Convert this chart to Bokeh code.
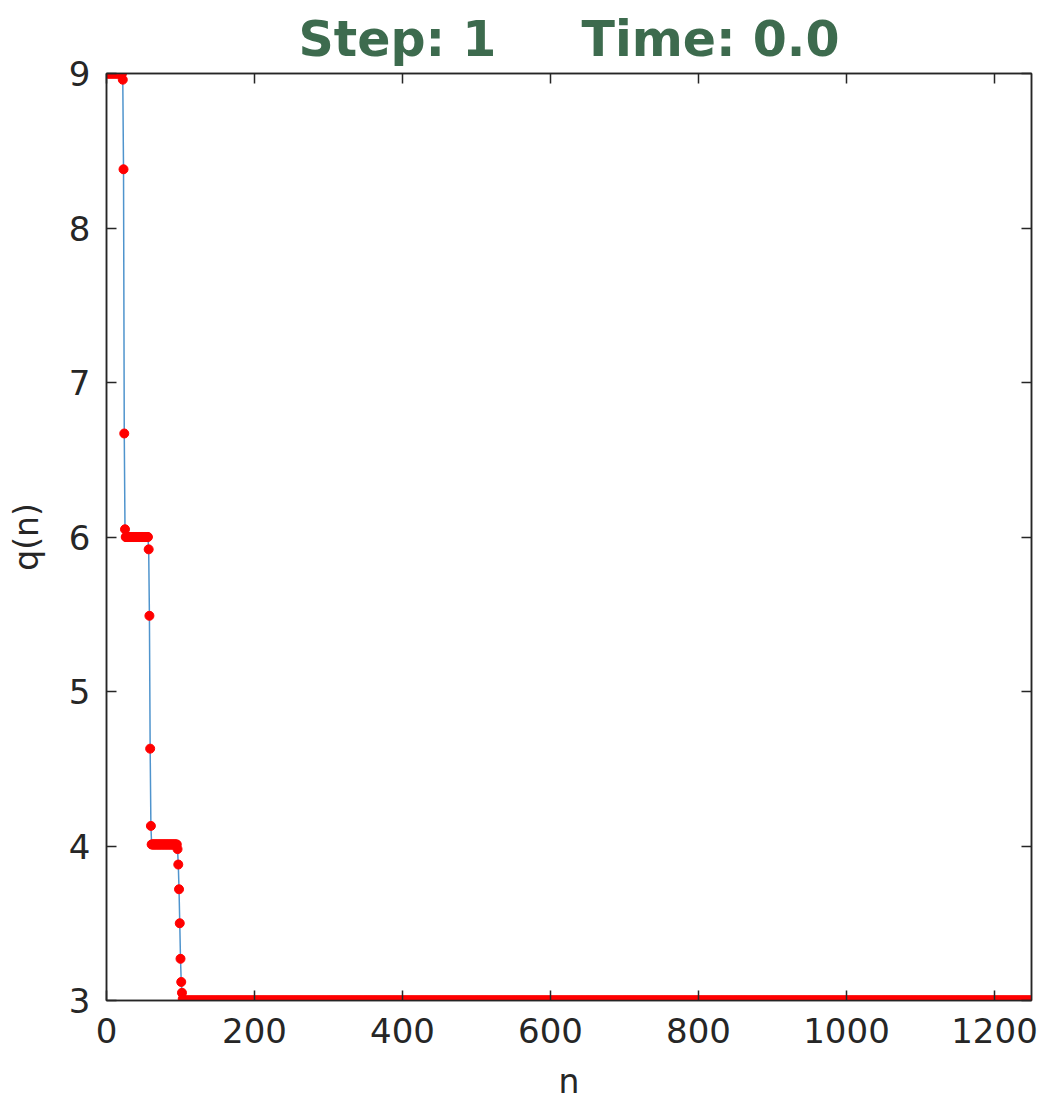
import numpy as np
from bokeh.plotting import figure
from bokeh.models import Range1d, FixedTicker, LinearAxis, Title
from bokeh.embed import file_html
from bokeh.resources import INLINE

# ---- data ----
# constant plateaus of q(n): first n, last n, level
plateau_start = [1, 26, 61, 104]
plateau_end = [21, 56, 95, 1250]
plateau_level = [9.0, 6.0, 4.01, 3.0]

# transitional points between plateaus
drop1_n = [22, 23, 24, 25]
drop1_q = [8.96, 8.38, 6.67, 6.05]
drop2_n = [57, 58, 59, 60]
drop2_q = [5.92, 5.49, 4.63, 4.13]
drop3_n = [96, 97, 98, 99, 100, 101, 102, 103]
drop3_q = [3.98, 3.88, 3.72, 3.50, 3.27, 3.12, 3.05, 3.01]

x_ticks = [0, 200, 400, 600, 800, 1000, 1200]
y_ticks = [3, 4, 5, 6, 7, 8, 9]
NB = "\u00a0"
title_text = "Step: 1" + NB * 5 + "Time: 0.0"

# assemble series
drops = [(drop1_n, drop1_q), (drop2_n, drop2_q), (drop3_n, drop3_q), ([], [])]
ns, qs = [], []
for (s, e, lv), (dn, dq) in zip(zip(plateau_start, plateau_end, plateau_level), drops):
    run = list(range(s, e + 1))
    ns += run
    qs += [lv] * len(run)
    ns += list(dn)
    qs += list(dq)

TXT = "#262626"
FONT = "DejaVu Sans"

p = figure(width=1044, height=1105, output_backend="svg", toolbar_location=None,
           x_range=Range1d(0, 1250), y_range=Range1d(3, 9),
           min_border_left=106, min_border_right=13, min_border_top=73, min_border_bottom=105,
           x_axis_label="n", y_axis_label="q(n)")
p.background_fill_color = "white"
p.border_fill_color = "white"
p.outline_line_color = TXT
p.outline_line_width = 1.5
p.grid.visible = False

p.line(ns, qs, line_color="#4f94cd", line_width=1.5)
p.scatter(ns, qs, size=9, fill_color="#ff0000", line_color="#ff0000")

for ax in p.xaxis:
    ax.ticker = FixedTicker(ticks=x_ticks)
for ax in p.yaxis:
    ax.ticker = FixedTicker(ticks=y_ticks)

p.add_layout(LinearAxis(ticker=FixedTicker(ticks=x_ticks),
                        major_label_overrides={t: "" for t in x_ticks}), "above")
p.add_layout(LinearAxis(ticker=FixedTicker(ticks=y_ticks),
                        major_label_overrides={t: "" for t in y_ticks}), "right")

for ax in p.axis:
    ax.axis_line_color = TXT
    ax.axis_line_width = 1.5
    ax.major_tick_in = 10
    ax.major_tick_out = 0
    ax.major_tick_line_color = TXT
    ax.major_tick_line_width = 1.5
    ax.minor_tick_line_color = None
    ax.major_label_text_font = FONT
    ax.major_label_text_color = TXT
    ax.axis_label_text_font = FONT
    ax.axis_label_text_color = TXT
    ax.axis_label_text_font_style = "normal"

p.below[0].major_label_text_font_size = "34px"
p.below[0].axis_label_text_font_size = "33px"
p.below[0].major_label_standoff = 17
p.below[0].axis_label_standoff = 16
p.left[0].major_label_text_font_size = "34px"
p.left[0].axis_label_text_font_size = "33px"
p.left[0].major_label_standoff = 16
p.left[0].axis_label_standoff = 20
for ax in (p.above[0], p.right[0]):
    ax.major_label_standoff = 0
    ax.major_label_text_font_size = "1px"

p.title = Title(text=title_text, align="center", text_font="DejaVu Sans",
                text_font_size="49px", text_font_style="bold", text_color="#3d6b4e",
                standoff=11, offset=0)
p.title_location = "above"

open("out.html", "w").write(file_html(p, INLINE))
